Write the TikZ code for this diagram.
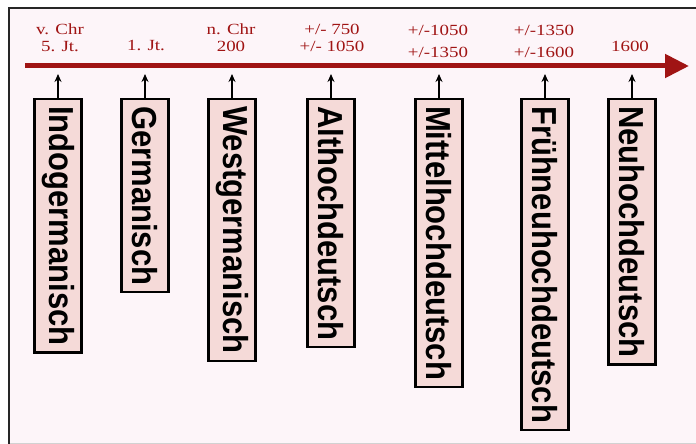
\documentclass[tikz,border=0pt]{standalone}
\usepackage{fontspec}
\setmainfont{Liberation Serif}
\setsansfont{Liberation Sans}
\usetikzlibrary{arrows.meta,calc}
\definecolor{bgpink}{HTML}{FDF5F9}
\definecolor{boxpink}{HTML}{F5DAD8}
\definecolor{darkred}{HTML}{A01414}
\tikzset{
  era/.style={draw=black, line width=2.2pt, fill=boxpink, rotate=-90, anchor=west,
    inner xsep=7pt, inner ysep=0pt, minimum height=47pt,
    font=\sffamily\bfseries\fontsize{31}{31}\selectfont},
  datelbl/.style={anchor=base, text=darkred, inner sep=0pt,
    font=\fontsize{15.5}{15.5}\selectfont},
  tick/.style={-{Stealth[length=8pt,width=7pt]}, line width=1.4pt, black},
  timeline/.style={darkred, line width=5pt, -{Triangle[length=24pt,width=23pt]}}
}
\newcommand{\sx}[1]{\scalebox{1.22}[1]{#1}}
\newcommand{\sy}[1]{\scalebox{1}[1.12]{#1}}
\begin{document}
\begin{tikzpicture}[x=1pt,y=-1pt]
\fill[white] (0,0) rectangle (696,444);
\useasboundingbox (0,0) rectangle (696,444);
\fill[bgpink] (9,8) rectangle (696,443);
\draw[gray!35, line width=0.8pt] (9,443) -- (696,443);
\draw[black!85, line width=2.5pt] (9,444) -- (9,8) -- (696,8);

% timeline
\coordinate (ls) at (25,66);
\coordinate (le) at (689,66);
\draw[timeline] (ls) -- (le);

% date labels
\node[datelbl] (d1a) at (60,35) {\sx{v. Chr}};
\node[datelbl] (d1b) at (60,52) {\sx{5. Jt.}};
\node[datelbl] (d2)  at (146,51) {\sx{1. Jt.}};
\node[datelbl] (d3a) at (231,35) {\sx{n. Chr}};
\node[datelbl] (d3b) at (231,52) {\sx{200}};
\node[datelbl] (d4a) at (332,35) {\sx{+/- 750}};
\node[datelbl] (d4b) at (332,52) {\sx{+/- 1050}};
\node[datelbl] (d5a) at (438,36) {\sx{+/-1050}};
\node[datelbl] (d5b) at (438,58) {\sx{+/-1350}};
\node[datelbl] (d6a) at (544,36) {\sx{+/-1350}};
\node[datelbl] (d6b) at (544,58) {\sx{+/-1600}};
\node[datelbl] (d7)  at (630,52) {\sx{1600}};

% era boxes
\node[era] (b1) at (58,98)  {\sy{Indogermanisch}};
\node[era] (b2) at (145,98) {\sy{Germanisch}};
\node[era] (b3) at (232,98) {\sy{Westgermanisch}};
\node[era] (b4) at (331,98) {\sy{Althochdeutsch}};
\node[era] (b5) at (439,98) {\sy{Mittelhochdeutsch}};
\node[era] (b6) at (545,98) {\sy{Frühneuhochdeutsch}};
\node[era] (b7) at (632,98) {\sy{Neuhochdeutsch}};

% ticks
\foreach \i in {1,...,7}{
  \coordinate (t\i) at ($(b\i.west)+(0,-24)$);
  \draw[tick] (b\i.west) -- (t\i);
}
\end{tikzpicture}
\end{document}
